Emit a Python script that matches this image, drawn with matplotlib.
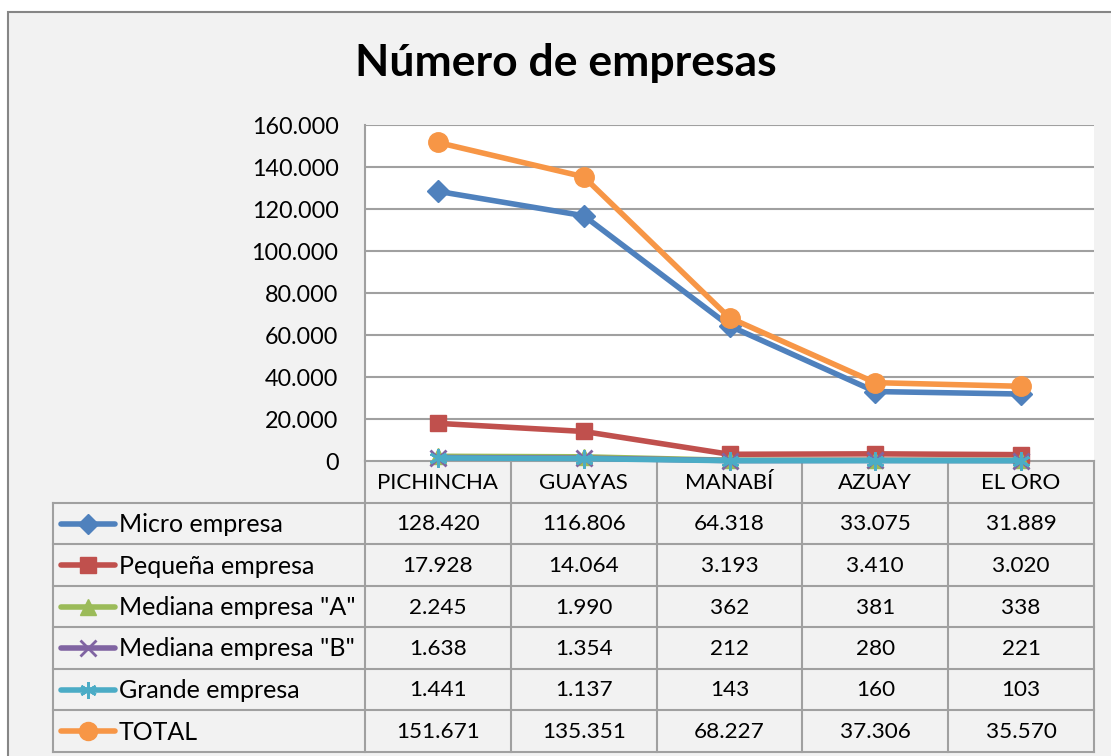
import matplotlib
matplotlib.use("Agg")
import matplotlib.pyplot as plt
from matplotlib.patches import Rectangle
from matplotlib.lines import Line2D

plt.rcParams['font.family'] = ['Lato', 'DejaVu Sans']

# ---- data ----
categories = ["PICHINCHA", "GUAYAS", "MANABÍ", "AZUAY", "EL ORO"]
series_names = ["Micro empresa", "Pequeña empresa", 'Mediana empresa "A"',
                'Mediana empresa "B"', "Grande empresa", "TOTAL"]
micro = [128420, 116806, 64318, 33075, 31889]
pequena = [17928, 14064, 3193, 3410, 3020]
mediana_a = [2245, 1990, 362, 381, 338]
mediana_b = [1638, 1354, 212, 280, 221]
grande = [1441, 1137, 143, 160, 103]
total = [151671, 135351, 68227, 37306, 35570]
yticks = [0, 20000, 40000, 60000, 80000, 100000, 120000, 140000, 160000]
title = "Número de empresas"

series = [micro, pequena, mediana_a, mediana_b, grande, total]
colors = ["#4F81BD", "#C0504D", "#9BBB59", "#8064A2", "#4BACC6", "#F79646"]
markers = ["D", "s", "^", "x", (6, 2, 0), "o"]
msizes = [11, 12, 12, 12, 13, 14]

def fmt(v):
    return f"{v:,}".replace(",", ".")

W, H = 1111, 756
fig = plt.figure(figsize=(W / 100, H / 100), dpi=100, facecolor="white")

# background overlay axes in pixel coords
bg = fig.add_axes([0, 0, 1, 1], zorder=0)
bg.set_xlim(0, W)
bg.set_ylim(H, 0)
bg.axis("off")
bg.add_patch(Rectangle((8, 12), W + 20, H + 20, facecolor="#F2F2F2",
                       edgecolor="#868686", linewidth=1.5))

# plot area
x0, x1, ytop, ybot = 365, 1094, 125, 461
ax = fig.add_axes([x0 / W, 1 - ybot / H, (x1 - x0) / W, (ybot - ytop) / H], zorder=2)
ax.set_facecolor("white")
ax.set_xlim(-0.5, len(categories) - 0.5)
ax.set_ylim(0, 160000)
ax.set_yticks(yticks)
ax.set_yticklabels([fmt(v) for v in yticks], fontsize=16.8)
ax.set_xticks([])
ax.tick_params(axis="y", length=0, pad=19)
ax.grid(axis="y", color="#A0A0A0", linewidth=1.5)
ax.set_axisbelow(True)
for s in ["top", "right", "bottom"]:
    ax.spines[s].set_visible(False)
ax.spines["left"].set_color("#A0A0A0")
ax.spines["left"].set_linewidth(1.5)

xs = list(range(len(categories)))
for i, (vals, c, m, ms) in enumerate(zip(series, colors, markers, msizes)):
    mew = 2 if m in ("x", (6, 2, 0)) else 1
    ax.plot(xs, vals, color=c, linewidth=4, marker=m, markersize=ms,
            markeredgewidth=mew, markeredgecolor=c, markerfacecolor=c,
            clip_on=False, zorder=3 + i)

fig.text(566 / W, 1 - 63 / H, title, fontsize=32, fontweight="bold",
         ha="center", va="center")

# data table
gc = "#A0A0A0"
lw = 1.5
col_w = (x1 - x0) / len(categories)
row_tops = [461, 503, 544, 586, 627, 669, 710, 752]
tl = 53
# header row
bg.plot([x0, x1], [row_tops[0], row_tops[0]], color=gc, lw=lw)
for j in range(len(categories) + 1):
    xx = x0 + j * col_w
    bg.plot([xx, xx], [row_tops[0], row_tops[-1]], color=gc, lw=lw)
for r in row_tops[1:]:
    bg.plot([tl, x1], [r, r], color=gc, lw=lw)
bg.plot([tl, tl], [row_tops[1], row_tops[-1]], color=gc, lw=lw)

for j, cat in enumerate(categories):
    bg.text(x0 + (j + 0.5) * col_w, (row_tops[0] + row_tops[1]) / 2 + 1, cat,
            fontsize=16, ha="center", va="center")

for i, (name, vals, c, m, ms) in enumerate(zip(series_names, series, colors, markers, msizes)):
    yc = (row_tops[i + 1] + row_tops[i + 2]) / 2
    bg.add_line(Line2D([61, 115], [yc, yc], color=c, lw=4, solid_capstyle="round"))
    mew = 2 if m in ("x", (6, 2, 0)) else 1
    bg.add_line(Line2D([88], [yc], marker=m, markersize=ms - 1, color=c,
                       markeredgecolor=c, markeredgewidth=mew, linestyle="none"))
    bg.text(119, yc + 1, name, fontsize=18, ha="left", va="center")
    for j, v in enumerate(vals):
        bg.text(x0 + (j + 0.5) * col_w, yc + 1, fmt(v), fontsize=16.2,
                ha="center", va="center")

fig.savefig("out.png", dpi=100, facecolor="white")
